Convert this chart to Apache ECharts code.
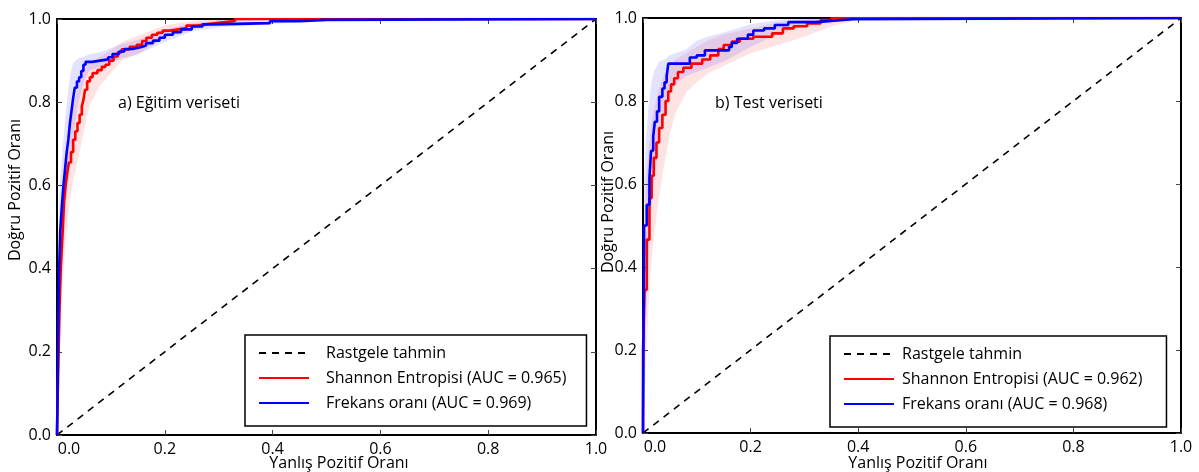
<!DOCTYPE html>
<html>
<head>
<meta charset="utf-8">
<script src="https://cdn.jsdelivr.net/npm/echarts@6/dist/echarts.min.js"></script>
<style>
html,body{margin:0;padding:0;background:#fff;}
#c{width:1199px;height:472px;}
</style>
</head>
<body>
<div id="c"></div>
<script>
// ---------- DATA ----------
const xTicks = [0, 0.2, 0.4, 0.6, 0.8, 1.0];
const yTicks = [0, 0.2, 0.4, 0.6, 0.8, 1.0];
const randomLine = [[0, 0], [1, 1]];

// Left panel (a) ROC curves: [FPR, TPR after step]
const trainShannon = [[0,0],[0.001,0.08],[0.003,0.2],[0.005,0.32],[0.007,0.40],[0.009,0.45],[0.011,0.50],[0.013,0.56],[0.016,0.60],[0.019,0.63],[0.022,0.655],[0.026,0.68],[0.03,0.71],[0.034,0.73],[0.038,0.75],[0.042,0.77],[0.046,0.79],[0.049,0.805],[0.052,0.83],[0.056,0.85],[0.061,0.86],[0.066,0.87],[0.075,0.877],[0.083,0.885],[0.09,0.89],[0.097,0.9],[0.105,0.91],[0.113,0.92],[0.12,0.927],[0.135,0.933],[0.148,0.938],[0.158,0.947],[0.166,0.955],[0.176,0.962],[0.186,0.967],[0.196,0.972],[0.21,0.975],[0.225,0.978],[0.24,0.984],[0.26,0.988],[0.28,0.991],[0.3,0.995],[0.33,1.0],[1,1]];
const trainFreq = [[0,0],[0.001,0.08],[0.002,0.25],[0.004,0.40],[0.006,0.49],[0.009,0.55],[0.012,0.60],[0.015,0.64],[0.018,0.68],[0.021,0.71],[0.024,0.75],[0.027,0.78],[0.030,0.81],[0.033,0.835],[0.037,0.85],[0.041,0.86],[0.045,0.875],[0.049,0.89],[0.053,0.897],[0.065,0.90],[0.08,0.903],[0.095,0.908],[0.103,0.916],[0.115,0.922],[0.125,0.928],[0.14,0.932],[0.155,0.936],[0.165,0.942],[0.178,0.948],[0.19,0.955],[0.2,0.962],[0.215,0.968],[0.23,0.975],[0.25,0.982],[0.27,0.987],[0.29,0.99],[0.395,0.995],[0.45,0.998],[0.5,1.0],[1,1]];

// Left panel bands
const trainBandX      = [0, 0.005, 0.01, 0.015, 0.02, 0.025, 0.03, 0.04, 0.05, 0.06, 0.08, 0.1, 0.12, 0.15, 0.2, 0.25, 0.3, 0.35, 0.4, 0.45, 0.5, 1];
const trainFreqLow    = [0.0, 0.30, 0.45, 0.54, 0.60, 0.66, 0.72, 0.80, 0.85, 0.875, 0.885, 0.895, 0.905, 0.915, 0.945, 0.97, 0.98, 0.983, 0.988, 0.993, 1, 1];
const trainFreqHigh   = [0.25, 0.60, 0.68, 0.76, 0.82, 0.87, 0.895, 0.905, 0.91, 0.915, 0.92, 0.93, 0.94, 0.95, 0.975, 0.99, 0.997, 0.998, 1, 1, 1, 1];
const trainShanLow    = [0.0, 0.2, 0.35, 0.45, 0.52, 0.57, 0.61, 0.67, 0.73, 0.79, 0.84, 0.87, 0.9, 0.915, 0.955, 0.975, 0.988, 0.995, 1, 1, 1, 1];
const trainShanHigh   = [0.2, 0.45, 0.58, 0.66, 0.72, 0.76, 0.79, 0.84, 0.875, 0.895, 0.91, 0.925, 0.945, 0.96, 0.985, 0.995, 1, 1, 1, 1, 1, 1];

// Right panel (b) ROC curves
const testShannon = [[0,0],[0,0.2],[0.003,0.345],[0.007,0.466],[0.012,0.566],[0.016,0.62],[0.02,0.663],[0.025,0.70],[0.03,0.735],[0.036,0.767],[0.042,0.80],[0.047,0.823],[0.052,0.84],[0.058,0.855],[0.065,0.87],[0.075,0.88],[0.09,0.89],[0.11,0.9],[0.125,0.91],[0.14,0.925],[0.15,0.935],[0.165,0.943],[0.18,0.95],[0.205,0.955],[0.24,0.963],[0.26,0.975],[0.28,0.98],[0.305,0.987],[0.33,0.995],[0.35,1.0],[1,1]];
const testFreq = [[0,0],[0.002,0.50],[0.007,0.55],[0.012,0.615],[0.015,0.68],[0.019,0.715],[0.022,0.75],[0.026,0.775],[0.030,0.81],[0.036,0.83],[0.040,0.845],[0.044,0.86],[0.047,0.89],[0.087,0.905],[0.1,0.91],[0.115,0.922],[0.16,0.93],[0.165,0.94],[0.175,0.95],[0.195,0.96],[0.205,0.97],[0.225,0.975],[0.245,0.983],[0.27,0.99],[0.32,0.993],[0.35,0.997],[0.39,1.0],[1,1]];

// Right panel bands
const testBandX     = [0, 0.005, 0.01, 0.015, 0.02, 0.03, 0.04, 0.05, 0.06, 0.08, 0.1, 0.12, 0.15, 0.2, 0.25, 0.3, 0.35, 0.4, 0.45, 1];
const testFreqLow   = [0.0, 0.25, 0.42, 0.53, 0.60, 0.70, 0.77, 0.82, 0.84, 0.86, 0.87, 0.88, 0.895, 0.93, 0.96, 0.98, 0.99, 1, 1, 1];
const testFreqHigh  = [0.55, 0.70, 0.78, 0.84, 0.87, 0.895, 0.90, 0.91, 0.915, 0.925, 0.945, 0.955, 0.965, 0.985, 0.995, 1, 1, 1, 1, 1];
const testShanLow   = [0.0, 0.15, 0.30, 0.40, 0.47, 0.57, 0.65, 0.72, 0.77, 0.82, 0.845, 0.865, 0.885, 0.915, 0.935, 0.955, 0.98, 0.995, 1, 1];
const testShanHigh  = [0.4, 0.58, 0.68, 0.74, 0.78, 0.83, 0.865, 0.885, 0.9, 0.915, 0.93, 0.945, 0.96, 0.975, 0.99, 0.997, 1, 1, 1, 1];

const legendRandom = 'Rastgele tahmin';
const trainNames = ['Shannon Entropisi (AUC = 0.965)', 'Frekans oranı (AUC = 0.969)'];
const testNames  = ['Shannon Entropisi (AUC = 0.962)', 'Frekans oranı (AUC = 0.968)'];
const panelTitles = ['a) Eğitim veriseti', 'b) Test veriseti'];
const xTitle = 'Yanlış Pozitif Oranı';
const yTitle = 'Doğru Pozitif Oranı';

// ---------- CHART ----------
const FONT = 'Open Sans';
const FS = 16;
const chart = echarts.init(document.getElementById('c'), null, {renderer: 'canvas'});

function xAxes(gridIndex) {
  const base = {
    type: 'value', gridIndex, min: 0, max: 1, interval: 0.2,
    splitLine: {show: false},
    axisLine: {show: true, onZero: false, lineStyle: {color: '#000', width: 2}},
    axisTick: {show: true, inside: true, length: 5, lineStyle: {color: '#444', width: 1}}
  };
  return [
    Object.assign({}, base, {
      position: 'bottom',
      axisLabel: {
        show: true, color: '#000', fontFamily: FONT, fontSize: FS, margin: 6,
        formatter: v => v === 0 ? '{o|0.0}' : v.toFixed(1),
        rich: {o: {padding: [0, 0, 0, 24], fontFamily: FONT, fontSize: FS, color: '#000'}}
      }
    }),
    Object.assign({}, base, {position: 'top', axisLabel: {show: false}})
  ];
}
function yAxes(gridIndex) {
  const base = {
    type: 'value', gridIndex, min: 0, max: 1, interval: 0.2,
    splitLine: {show: false},
    axisLine: {show: true, onZero: false, lineStyle: {color: '#000', width: 2}},
    axisTick: {show: true, inside: true, length: 5, lineStyle: {color: '#444', width: 1}}
  };
  return [
    Object.assign({}, base, {
      position: 'left',
      axisLabel: {show: true, color: '#000', fontFamily: FONT, fontSize: FS, margin: 6, formatter: v => v.toFixed(1)}
    }),
    Object.assign({}, base, {position: 'right', axisLabel: {show: false}})
  ];
}

function band(xs, lo, hi, color, xi, yi) {
  return {
    type: 'custom', xAxisIndex: xi, yAxisIndex: yi, silent: true, z: 1,
    data: xs.map((x, i) => [x, lo[i], hi[i]]),
    encode: {x: 0, y: [1, 2]},
    renderItem: function (params, api) {
      if (params.dataIndex !== 0) return;
      const pts = [];
      for (let i = 0; i < xs.length; i++) pts.push(api.coord([xs[i], hi[i]]));
      for (let i = xs.length - 1; i >= 0; i--) pts.push(api.coord([xs[i], lo[i]]));
      return {type: 'polygon', shape: {points: pts}, style: {fill: color}};
    }
  };
}
function curve(name, data, color, xi, yi) {
  return {
    type: 'line', name, data, step: 'end', xAxisIndex: xi, yAxisIndex: yi,
    symbol: 'none', z: 3, lineStyle: {color, width: 2.6}, itemStyle: {color}
  };
}
function diag(xi, yi) {
  return {
    type: 'line', name: legendRandom, data: randomLine, xAxisIndex: xi, yAxisIndex: yi,
    symbol: 'none', z: 2, lineStyle: {color: '#000', width: 1.6, type: [7, 6]}, itemStyle: {color: '#000'}
  };
}

const RED = '#ff0000', BLUE = '#0000ff';
const RED_BAND = 'rgba(255,0,0,0.11)', BLUE_BAND = 'rgba(0,0,255,0.11)';

function legendCfg(names, left, top, textPadLeft, padRight) {
  return {
    orient: 'vertical', left, top,
    data: [legendRandom].concat(names),
    itemWidth: 50, itemHeight: 14, itemGap: 7,
    borderColor: '#000', borderWidth: 1.5, borderRadius: 0,
    padding: [9, padRight, 14, 13],
    selectedMode: false,
    itemStyle: {opacity: 0, borderWidth: 0},
    textStyle: {fontFamily: FONT, fontSize: FS, color: '#000', lineHeight: 18, padding: [0, 0, 0, textPadLeft]}
  };
}

function text(str, x, y, rot, align) {
  return {
    type: 'text', x, y, rotation: rot || 0,
    style: {text: str, font: FS + 'px "' + FONT + '"', fill: '#000', align: align || 'center', verticalAlign: 'middle'}
  };
}

const option = {
  animation: false,
  backgroundColor: '#fff',
  grid: [
    {left: 57, top: 19, width: 539, height: 416},
    {left: 643, top: 18, width: 538, height: 415}
  ],
  xAxis: xAxes(0).concat(xAxes(1)),
  yAxis: yAxes(0).concat(yAxes(1)),
  legend: [
    legendCfg(trainNames, 245, 335, 12, 20),
    legendCfg(testNames, 830, 336, 3, 24)
  ],
  graphic: [
    text(panelTitles[0], 118, 103, 0, 'left'),
    text(panelTitles[1], 715, 103, 0, 'left'),
    text(xTitle, 339, 463),
    text(xTitle, 918, 463),
    text(yTitle, 15, 190, Math.PI / 2),
    text(yTitle, 608, 202, Math.PI / 2)
  ],
  series: [
    band(trainBandX, trainShanLow, trainShanHigh, RED_BAND, 0, 0),
    band(trainBandX, trainFreqLow, trainFreqHigh, BLUE_BAND, 0, 0),
    diag(0, 0),
    curve(trainNames[0], trainShannon, RED, 0, 0),
    curve(trainNames[1], trainFreq, BLUE, 0, 0),
    band(testBandX, testShanLow, testShanHigh, RED_BAND, 2, 2),
    band(testBandX, testFreqLow, testFreqHigh, BLUE_BAND, 2, 2),
    diag(2, 2),
    curve(testNames[0], testShannon, RED, 2, 2),
    curve(testNames[1], testFreq, BLUE, 2, 2)
  ]
};
chart.setOption(option);
</script>
</body>
</html>
